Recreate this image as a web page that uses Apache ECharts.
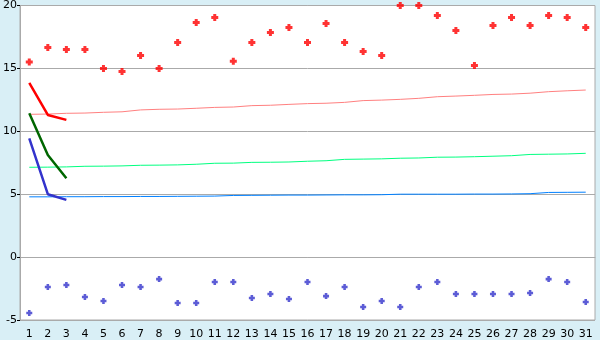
<!DOCTYPE html>
<html>
<head>
<meta charset="utf-8">
<script src="https://cdn.jsdelivr.net/npm/echarts@6/dist/echarts.min.js"></script>
<style>html,body{margin:0;padding:0;background:#d9eff6;}#c{width:600px;height:340px;}</style>
</head>
<body>
<div id="c"></div>
<script>
var days = ['1','2','3','4','5','6','7','8','9','10','11','12','13','14','15','16','17','18','19','20','21','22','23','24','25','26','27','28','29','30','31'];
var yTicks = {min: -5, max: 20, interval: 5};

var highPoints = [15.5,16.67,16.5,16.5,15.0,14.76,16.03,15.0,17.06,18.65,19.05,15.56,17.06,17.86,18.25,17.06,18.57,17.06,16.35,16.03,20.0,20.0,19.21,18.02,15.24,18.41,19.05,18.41,19.21,19.05,18.25];
var lowPoints = [-4.44,-2.38,-2.22,-3.17,-3.49,-2.22,-2.38,-1.75,-3.65,-3.65,-1.98,-1.98,-3.25,-2.94,-3.33,-1.98,-3.10,-2.38,-3.97,-3.49,-3.97,-2.38,-1.98,-2.94,-2.94,-2.94,-2.94,-2.86,-1.75,-1.98,-3.57];

var pinkLine = [11.35,11.37,11.43,11.45,11.51,11.55,11.7,11.75,11.77,11.83,11.9,11.93,12.04,12.07,12.14,12.2,12.23,12.3,12.44,12.48,12.54,12.62,12.75,12.8,12.86,12.93,12.96,13.03,13.15,13.22,13.28];
var greenLine = [7.14,7.15,7.17,7.22,7.23,7.25,7.3,7.31,7.33,7.38,7.46,7.47,7.53,7.54,7.56,7.62,7.66,7.77,7.79,7.81,7.86,7.88,7.94,7.95,7.98,8.02,8.06,8.16,8.18,8.2,8.25];
var blueLine = [4.79,4.79,4.8,4.8,4.81,4.81,4.82,4.82,4.83,4.84,4.85,4.9,4.91,4.92,4.93,4.93,4.94,4.95,4.95,4.96,5.0,5.0,5.0,5.0,5.01,5.01,5.02,5.04,5.14,5.15,5.16];

var redShort = [13.85,11.3,10.91];
var greenShort = [11.43,8.12,6.27];
var blueShort = [9.44,5.0,4.55];

var plusPath = 'path://M2,0H5V2H7V5H5V7H2V5H0V2H2Z';

var chart = echarts.init(document.getElementById('c'), null, {renderer: 'canvas'});
chart.setOption({
  animation: false,
  backgroundColor: '#d9eff6',
  grid: {left: 20, right: 5, top: 5, bottom: 20, show: true, backgroundColor: '#ffffff', borderColor: '#aaaaaa', borderWidth: 1},
  xAxis: {
    type: 'category', data: days, boundaryGap: true,
    axisLine: {lineStyle: {color: '#aaaaaa', width: 1}},
    axisTick: {alignWithLabel: true, length: 5, lineStyle: {color: '#000000'}},
    axisLabel: {color: '#000000', fontFamily: 'DejaVu Sans', fontSize: 11, margin: 9, interval: 0},
    splitLine: {show: false}
  },
  yAxis: {
    type: 'value', min: yTicks.min, max: yTicks.max, interval: yTicks.interval,
    axisLine: {show: true, lineStyle: {color: '#aaaaaa'}},
    axisTick: {show: true, length: 3, lineStyle: {color: '#000000'}},
    axisLabel: {color: '#000000', fontFamily: 'DejaVu Sans', fontSize: 11, margin: 3},
    splitLine: {lineStyle: {color: '#aaaaaa', width: 1}}
  },
  series: [
    {type: 'line', data: pinkLine, symbol: 'none', lineStyle: {color: '#ff8080', width: 1}, z: 2},
    {type: 'line', data: greenLine, symbol: 'none', lineStyle: {color: '#00ff80', width: 1}, z: 2},
    {type: 'line', data: blueLine, symbol: 'none', lineStyle: {color: '#0080ff', width: 1}, z: 2},
    {type: 'line', data: redShort, symbol: 'none', lineStyle: {color: '#ff0000', width: 2.5}, z: 3},
    {type: 'line', data: greenShort, symbol: 'none', lineStyle: {color: '#006600', width: 2.5}, z: 3},
    {type: 'line', data: blueShort, symbol: 'none', lineStyle: {color: '#3333cc', width: 2.5}, z: 3},
    {type: 'scatter', data: highPoints, symbol: plusPath, symbolSize: 7, itemStyle: {color: '#ff0000'}, z: 4},
    {type: 'scatter', data: lowPoints, symbol: plusPath, symbolSize: 6, itemStyle: {color: '#3333cc'}, z: 4}
  ]
});
</script>
</body>
</html>
